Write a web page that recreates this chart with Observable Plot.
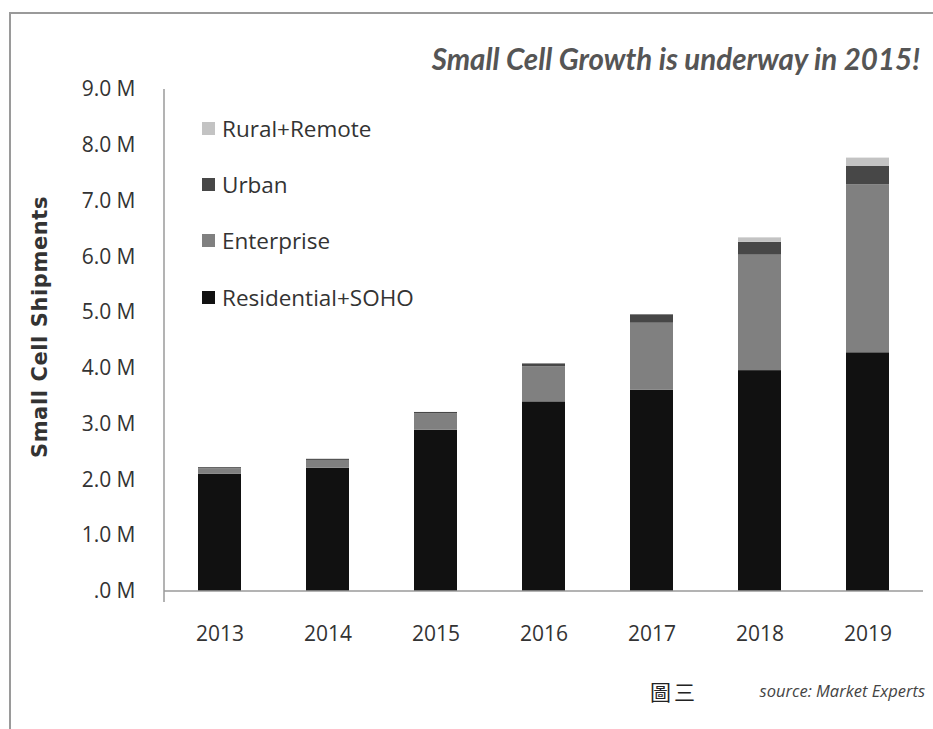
<!DOCTYPE html>
<html>
<head>
<meta charset="utf-8">
<script src="https://cdn.jsdelivr.net/npm/d3@7"></script>
<script src="https://cdn.jsdelivr.net/npm/@observablehq/plot@0.6"></script>
<style>
  body { margin: 0; background: #fff; }
  #wrap { position: relative; width: 933px; height: 729px; overflow: hidden; font-family: "Open Sans", sans-serif; background: #fff; }
  #frame { position: absolute; z-index: 5; pointer-events: none; left: 9px; top: 12px; right: -10px; bottom: -10px; border-top: 2px solid #9a9a9a; border-left: 2px solid #9a9a9a; }
  #title { position: absolute; right: 13px; top: 41px; font-family: Lato, sans-serif; font-weight: 700; font-style: italic; font-size: 29.5px; color: #555; white-space: nowrap; }
  #chart { position: absolute; left: 0; top: 69px; }
  #chart svg { background: transparent !important; }
  #ylabel { position: absolute; left: 40px; top: 327px; transform: translate(-50%, -50%) rotate(-90deg); font-family: "DejaVu Sans", sans-serif; font-weight: 700; font-size: 21px; letter-spacing: 0.6px; color: #333; white-space: nowrap; }
  #legend { position: absolute; left: 202px; top: 100px; }
  .item { display: flex; align-items: center; height: 56.3px; font-size: 22.5px; color: #333; white-space: nowrap; }
  .sw { width: 13px; height: 13px; margin-right: 7px; }
  #fig { position: absolute; left: 650px; top: 676px; font-family: "Noto Sans CJK TC", sans-serif; font-size: 21px; color: #222; letter-spacing: 3px; }
  #source { position: absolute; right: 8px; top: 679px; font-family: "Open Sans", sans-serif; font-style: italic; font-size: 16.5px; color: #444; white-space: nowrap; }
</style>
</head>
<body>
<div id="wrap">
  <div id="title">Small Cell Growth is underway in 2015!</div>
  <div id="chart"></div>
  <div id="ylabel">Small Cell Shipments</div>
  <div id="legend"></div>
  <div id="fig">圖三</div>
  <div id="source">source: Market Experts</div>
  <div id="frame"></div>
</div>
<script>
// ---- data (millions of units) ----
const years = ["2013", "2014", "2015", "2016", "2017", "2018", "2019"];
const series = ["Residential+SOHO", "Enterprise", "Urban", "Rural+Remote"];
const residential = [2.10, 2.21, 2.89, 3.40, 3.61, 3.96, 4.28];
const enterprise  = [0.10, 0.14, 0.30, 0.63, 1.20, 2.07, 3.01];
const urban       = [0.02, 0.02, 0.02, 0.05, 0.15, 0.23, 0.33];
const rural       = [0.00, 0.00, 0.00, 0.00, 0.00, 0.08, 0.15];
const yTicks = [0, 1, 2, 3, 4, 5, 6, 7, 8, 9];
const legendOrder = ["Rural+Remote", "Urban", "Enterprise", "Residential+SOHO"];
const colors = ["#111111", "#808080", "#474747", "#c3c3c3"];

const seriesValues = [residential, enterprise, urban, rural];
const data = years.flatMap((yr, i) => series.map((s, j) => ({year: yr, series: s, value: seriesValues[j][i]})));

// axis lines with boundary ticks, derived from the scales
function axisLines(index, scales, values, dimensions) {
  const {x, y} = scales;
  const step = x(years[1]) - x(years[0]);
  const bw = x.bandwidth != null ? x.bandwidth : step * 0.4;
  const gap = (step - bw) / 2;
  const left = dimensions.marginLeft;
  const right = dimensions.width - dimensions.marginRight;
  const y0 = y(0), yTop = y(yTicks[yTicks.length - 1]);
  const g = d3.create("svg:g").attr("stroke", "#9a9a9a").attr("stroke-width", 1.5).attr("fill", "none");
  g.append("line").attr("x1", left).attr("x2", left).attr("y1", yTop).attr("y2", y0 + 11);
  g.append("line").attr("x1", left).attr("x2", right).attr("y1", y0).attr("y2", y0);
  const bounds = years.map(yr => x(yr) - gap).concat([x(years[years.length - 1]) + bw + gap]);
  for (const b of bounds) {
    if (Number.isFinite(b)) g.append("line").attr("x1", b).attr("x2", b).attr("y1", y0).attr("y2", y0 + 11);
  }
  return g.node();
}

const chart = Plot.plot({
  width: 933,
  height: 600,
  marginLeft: 164,
  marginRight: 10,
  marginTop: 20,
  marginBottom: 78,
  style: {fontFamily: "Open Sans, sans-serif", fontSize: "21px", color: "#333", background: "transparent", overflow: "visible"},
  x: {domain: years, paddingInner: 0.6, paddingOuter: 0.3, label: null},
  y: {domain: [0, 9], label: null},
  color: {domain: series, range: colors},
  marks: [
    Plot.barY(data, {x: "year", y: "value", fill: "series"}),
    Plot.axisY({ticks: yTicks, tickSize: 0, tickPadding: 29, label: null, fontSize: 21,
      tickFormat: d => (d === 0 ? ".0" : d.toFixed(1)) + " M"}),
    Plot.axisX({tickSize: 0, tickPadding: 35, label: null, fontSize: 21}),
    axisLines
  ]
});
document.getElementById("chart").appendChild(chart);

// legend
const colorOf = Object.fromEntries(series.map((s, i) => [s, colors[i]]));
const legend = document.getElementById("legend");
for (const s of legendOrder) {
  const item = document.createElement("div");
  item.className = "item";
  const sw = document.createElement("span");
  sw.className = "sw";
  sw.style.background = colorOf[s];
  const t = document.createElement("span");
  t.textContent = s;
  item.appendChild(sw);
  item.appendChild(t);
  legend.appendChild(item);
}
</script>
</body>
</html>
